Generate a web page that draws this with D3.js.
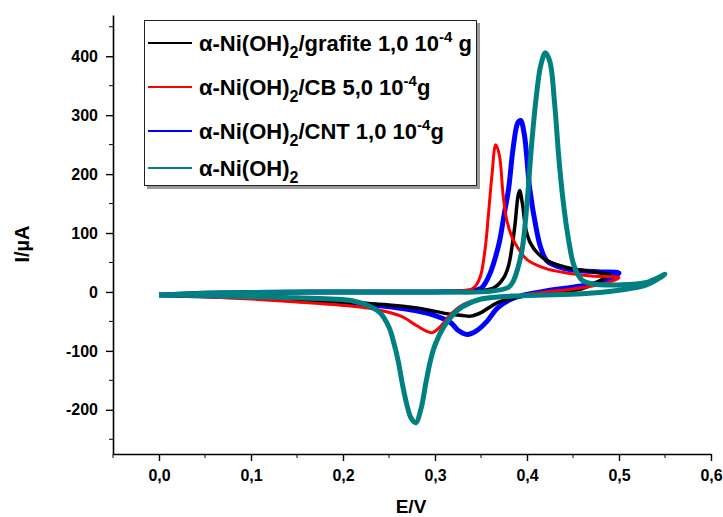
<!DOCTYPE html>
<html>
<head>
<meta charset="utf-8">
<script src="https://cdn.jsdelivr.net/npm/d3@7"></script>
<style>
  body { margin: 0; background: #fff; }
  text { font-family: "Liberation Sans", Arial, sans-serif; font-weight: bold; }
</style>
</head>
<body>
<div class="content"></div>
<script>
// voltammogrammes : [E (V), I (µA)], aller puis retour
var grafiteScan = [
  [0, -5], [0.05, -3], [0.1, -1], [0.2, 0], [0.3, 0], [0.35, 2], [0.365, 8], [0.375, 25],
  [0.38, 45], [0.384, 80], [0.387, 115], [0.39, 160], [0.392, 172], [0.395, 150], [0.399, 105],
  [0.404, 82], [0.412, 65], [0.422, 53], [0.44, 43], [0.459, 37], [0.48, 32], [0.49, 30],
  [0.47, 12], [0.459, 5], [0.42, -2], [0.386, -10], [0.368, -18], [0.35, -35], [0.339, -41],
  [0.33, -40], [0.317, -38], [0.28, -27], [0.25, -22], [0.208, -18], [0.15, -13], [0.1, -9],
  [0.05, -7], [0, -5]
];
var cbScan = [
  [0, -5], [0.05, -3], [0.1, -2], [0.2, -1], [0.3, 0], [0.33, 2], [0.34, 5], [0.345, 12],
  [0.35, 30], [0.355, 80], [0.358, 130], [0.362, 200], [0.366, 250], [0.37, 232], [0.374, 165],
  [0.378, 122], [0.384, 92], [0.39, 75], [0.4, 55], [0.42, 40], [0.44, 33], [0.47, 27], [0.5, 24],
  [0.49, 17], [0.46, 7], [0.42, 0], [0.386, -7], [0.357, -10], [0.345, -15], [0.331, -21],
  [0.317, -38], [0.305, -60], [0.297, -69], [0.29, -66], [0.28, -57], [0.263, -41], [0.24, -31],
  [0.208, -24], [0.15, -17], [0.1, -12], [0.05, -8], [0, -5]
];
var cntScan = [
  [0, -5], [0.05, -2], [0.1, -1], [0.2, 0], [0.3, 0], [0.34, 2], [0.35, 6], [0.355, 16],
  [0.36, 32], [0.364, 50], [0.37, 85], [0.375, 130], [0.38, 175], [0.385, 245], [0.39, 287],
  [0.393, 291], [0.397, 268], [0.403, 175], [0.41, 108], [0.415, 75], [0.422, 52], [0.44, 40],
  [0.459, 36], [0.48, 34], [0.5, 32],
  [0.477, 16], [0.45, 8], [0.422, 2], [0.386, -10], [0.368, -27], [0.357, -49], [0.345, -66],
  [0.335, -72], [0.325, -65], [0.317, -52], [0.3, -40], [0.28, -32], [0.25, -25], [0.208, -18],
  [0.15, -12], [0.1, -9], [0.05, -7], [0, -5]
];
var pureScan = [
  [0, -5], [0.05, -2], [0.1, -1], [0.2, 0], [0.3, 0], [0.36, 1], [0.38, 8], [0.385, 18],
  [0.39, 40], [0.395, 75], [0.4, 150], [0.405, 250], [0.41, 330], [0.415, 385], [0.42, 406],
  [0.425, 390], [0.43, 320], [0.435, 220], [0.44, 145], [0.445, 90], [0.45, 50], [0.455, 30],
  [0.46, 20], [0.47, 14], [0.5, 12], [0.53, 16], [0.55, 30],
  [0.53, 12], [0.5, 3], [0.46, -3], [0.4, -6], [0.35, -12], [0.33, -25], [0.32, -38], [0.31, -58],
  [0.3, -90], [0.295, -117], [0.29, -155], [0.285, -197], [0.279, -222], [0.274, -214],
  [0.27, -195], [0.265, -160], [0.26, -117], [0.255, -85], [0.25, -60], [0.24, -35], [0.23, -25],
  [0.21, -15], [0.15, -10], [0.1, -8], [0.05, -6], [0, -5]
];

var xTicks = [0, 0.1, 0.2, 0.3, 0.4, 0.5, 0.6];
var yTicks = [-200, -100, 0, 100, 200, 300, 400];

// séries : libellé (avant l'indice, indice, milieu, exposant, fin), couleur, trait
var series = [
  { name: 'grafite', data: grafiteScan, color: '#000000', width: 3.5, label: ['α-Ni(OH)', '2', '/grafite 1,0 10', '-4', ' g'] },
  { name: 'CB', data: cbScan, color: '#ff0000', width: 3, label: ['α-Ni(OH)', '2', '/CB 5,0 10', '-4', 'g'] },
  { name: 'CNT', data: cntScan, color: '#0000ff', width: 5, label: ['α-Ni(OH)', '2', '/CNT 1,0 10', '-4', 'g'] },
  { name: 'pur', data: pureScan, color: '#008080', width: 5, label: ['α-Ni(OH)', '2', '', '', ''] }
];
var drawOrder = ['CNT', 'grafite', 'CB', 'pur'];

var w = 723,
    h = 517;

var svg = d3.select('.content').append('svg')
    .attr('width', w)
    .attr('height', h);

var x = d3.scaleLinear().domain([-0.05, 0.6]).range([113, 711]);
var y = d3.scaleLinear().domain([-275, 470]).range([454, 15]);

// courbes
var line = d3.line()
    .x(function(d) { return x(d[0]); })
    .y(function(d) { return y(d[1]); })
    .curve(d3.curveCatmullRom.alpha(0.5));

drawOrder.forEach(function(n) {
    var s = series.find(function(d) { return d.name === n; });
    svg.append('path')
        .attr('d', line(s.data))
        .attr('fill', 'none')
        .attr('stroke', s.color)
        .attr('stroke-width', s.width)
        .attr('stroke-linejoin', 'round');
});

// axes
var xMinor = d3.range(-0.05, 0.601, 0.05).filter(function(v) { return Math.abs(Math.round(v * 10) - v * 10) > 0.01; });
var yMinor = d3.range(-250, 451, 100);

var xAxis = svg.append('g').attr('transform', 'translate(0,' + y.range()[0] + ')');
xAxis.call(d3.axisBottom(x).tickValues(xTicks).tickSize(7).tickSizeOuter(0)
    .tickFormat(function(d) { return d3.format('.1f')(d).replace('.', ','); }));
xAxis.append('g').selectAll('line').data(xMinor).enter().append('line')
    .attr('x1', x).attr('x2', x).attr('y1', 0).attr('y2', 4).attr('stroke', '#000');

var yAxis = svg.append('g').attr('transform', 'translate(' + x.range()[0] + ',0)');
yAxis.call(d3.axisLeft(y).tickValues(yTicks).tickSize(7).tickSizeOuter(0)
    .tickFormat(function(d) { return String(d); }));
yAxis.append('g').selectAll('line').data(yMinor).enter().append('line')
    .attr('y1', y).attr('y2', y).attr('x1', 0).attr('x2', -4).attr('stroke', '#000');

svg.selectAll('.domain').attr('stroke-width', 1.6);
svg.selectAll('.tick line').attr('stroke-width', 1.4);
svg.selectAll('.tick text')
    .style('font-family', '"Liberation Sans", Arial, sans-serif')
    .style('font-weight', 'bold')
    .style('font-size', '16px')
    .attr('fill', '#000');
xAxis.selectAll('.tick text').attr('dy', '1.05em');
yAxis.selectAll('.tick text').attr('x', -15);

// titres d'axes
svg.append('text')
    .attr('x', 411).attr('y', 513)
    .attr('text-anchor', 'middle')
    .style('font-size', '19px')
    .text('E/V');
svg.append('text')
    .attr('transform', 'translate(29,244) rotate(-90)')
    .attr('text-anchor', 'middle')
    .style('font-size', '20px')
    .text('I/µA');

// légende
var legend = svg.append('g');
legend.append('rect')
    .attr('x', 147).attr('y', 23).attr('width', 333).attr('height', 166)
    .attr('fill', '#999');
legend.append('rect')
    .attr('x', 144.5).attr('y', 20.5).attr('width', 332).attr('height', 165)
    .attr('fill', '#fff').attr('stroke', '#222').attr('stroke-width', 1);

var rowY = [43, 87, 131, 168];
series.forEach(function(s, i) {
    var g = legend.append('g').attr('transform', 'translate(0,' + rowY[i] + ')');
    g.append('line')
        .attr('x1', 148).attr('x2', 192).attr('y1', 0).attr('y2', 0)
        .attr('stroke', s.color).attr('stroke-width', 2);
    var t = g.append('text').attr('x', 199).attr('y', 8).style('font-size', '22px');
    t.append('tspan').text(s.label[0]);
    t.append('tspan').attr('dy', 7).style('font-size', '16px').text(s.label[1]);
    if (s.label[2]) {
        t.append('tspan').attr('dy', -7).text(s.label[2]);
        t.append('tspan').attr('dy', -9).style('font-size', '15px').text(s.label[3]);
        t.append('tspan').attr('dy', 9).text(s.label[4]);
    }
});
</script>
</body>
</html>
